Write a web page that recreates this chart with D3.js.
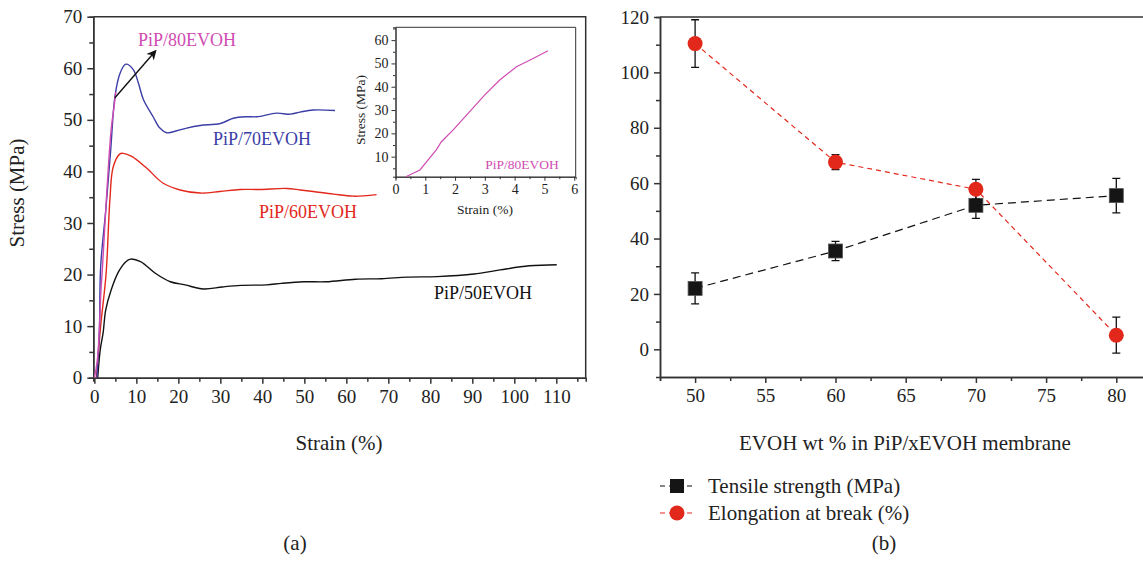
<!DOCTYPE html>
<meta charset="utf-8">
<head>
    <title>PiP/EVOH tensile properties</title>
    <script src="https://d3js.org/d3.v7.min.js"></script>
    <style>
        body { margin: 0; background: #ffffff; }
    </style>
</head>
<body>
<div id="my_dataviz"></div>
<script>

// ---- panel (a): stress-strain curves [strain %, stress MPa]
var curve50 = [[0.8,0],[1.4,5.4],[2.1,8.8],[2.7,13.1],[4.0,17],[5.8,20.6],[7.5,22.5],[8.6,23.0],[11.0,22.5],[14.6,20.2],[18.1,18.6],[21.6,18.0],[26.0,17.2],[30.5,17.6],[34.9,17.9],[41.0,18.0],[44.6,18.3],[49.9,18.6],[55.2,18.6],[62.2,19.1],[68.4,19.2],[74.5,19.5],[81.6,19.6],[90.4,20.1],[96.6,20.9],[103.6,21.7],[110.1,21.9]];
var curve60 = [[0.5,0],[1.5,10],[2.8,20.2],[3.7,34.5],[4.5,40.9],[6.1,43.4],[6.9,43.5],[8.9,42.9],[12.5,40.6],[16.4,37.7],[20.4,36.4],[25.2,35.8],[29.9,36.1],[34.7,36.5],[39.4,36.5],[45.8,36.7],[49.0,36.4],[52.1,36.1],[56.9,35.6],[61.7,35.2],[67.2,35.5]];
var curve70 = [[0.6,0],[1.2,9.2],[1.5,21.5],[2.8,33.2],[3.9,44.2],[4.9,54.5],[6.1,59],[7.5,60.8],[9.3,59.7],[10.5,57.1],[11.7,53.9],[14.0,50.6],[15.6,48.4],[17.2,47.5],[18.8,47.7],[22.0,48.4],[25.2,48.9],[30.0,49.3],[33.1,50.3],[36.3,50.6],[38.7,50.6],[43.4,51.3],[46.6,51.1],[49.0,51.5],[52.1,51.9],[57.3,51.8]];
var curve80 = [[0.0,0],[0.35,1.4],[0.82,4.3],[1.37,12.9],[1.54,16.4],[1.93,21.4],[2.49,29.3],[2.99,36.4],[3.5,42.9],[4.06,48.6],[4.62,52.1],[5.12,55.4]];

var strainTicks = [0,10,20,30,40,50,60,70,80,90,100,110];
var stressTicks = [0,10,20,30,40,50,60,70];
var insetStrainTicks = [0,1,2,3,4,5,6];
var insetStressTicks = [10,20,30,40,50,60];

// ---- panel (b): properties vs EVOH content
var evoh = [50, 60, 70, 80];
var tensile = [22, 35.5, 52, 55.5];
var tensileErr = [5.6, 3.5, 4.7, 6.2];
var elongation = [110.4, 67.6, 57.8, 5.1];
var elongationErr = [8.6, 2.7, 3.6, 6.5];
var evohTicks = [50, 55, 60, 65, 70, 75, 80];
var propTicks = [0, 20, 40, 60, 80, 100, 120];

var blue = "#3b3ea6", red = "#e2281b", magenta = "#cf4cb3";
var serif = "'Liberation Serif', 'DejaVu Serif', serif";

var svg = d3.select("#my_dataviz")
    .append("svg")
    .attr("width", 1143)
    .attr("height", 563);

// style an axis group: dark lines, serif labels
function styleAxis(g, size, width) {
    g.selectAll("path, line").style("stroke", "#333").style("stroke-width", width);
    g.selectAll("text").style("font-family", serif).style("font-size", size).style("fill", "#222");
}

// ================= panel (a) =================
var x = d3.scaleLinear().domain([-0.25, 117]).range([93.3, 585.7]);
var y = d3.scaleLinear().domain([0, 70]).range([377.7, 16.7]);

svg.append("g")
    .attr("transform", "translate(0," + y(0) + ")")
    .call(d3.axisBottom(x).tickValues(strainTicks).tickSize(6).tickSizeOuter(0).tickPadding(6))
    .call(styleAxis, "19px", 1.5);
svg.append("g")
    .attr("transform", "translate(0," + y(0) + ")")
    .call(d3.axisBottom(x).tickValues(d3.range(5, 116, 10)).tickSize(4).tickFormat(""))
    .call(styleAxis, "19px", 1.5);
svg.append("g")
    .attr("transform", "translate(" + x.range()[0] + ",0)")
    .call(d3.axisLeft(y).tickValues(stressTicks).tickSize(6).tickSizeOuter(0).tickPadding(5))
    .call(styleAxis, "19px", 1.5);
svg.append("g")
    .attr("transform", "translate(" + x.range()[0] + ",0)")
    .call(d3.axisLeft(y).tickValues(d3.range(5, 70, 10)).tickSize(4).tickFormat(""))
    .call(styleAxis, "19px", 1.5);
// frame
svg.append("path")
    .attr("d", "M" + x.range()[0] + "," + y(70) + "H" + x.range()[1] + "V" + y(0))
    .attr("fill", "none").attr("stroke", "#333").attr("stroke-width", 1.5);

svg.append("text")
    .attr("text-anchor", "middle")
    .attr("transform", "translate(24," + 193 + ") rotate(-90)")
    .text("Stress (MPa)").style("font-size", "21px");
svg.append("text")
    .attr("text-anchor", "middle")
    .attr("x", 339).attr("y", 450)
    .text("Strain (%)").style("font-size", "21px");

var line = d3.line()
    .x(function(d) { return x(d[0]) })
    .y(function(d) { return y(d[1]) })
    .curve(d3.curveCatmullRom.alpha(0.5));

[[curve50, "#111"], [curve60, red], [curve70, blue], [curve80, magenta]].forEach(function(c) {
    svg.append("path")
        .datum(c[0])
        .attr("fill", "none")
        .attr("stroke", c[1])
        .attr("stroke-width", 1.4)
        .attr("d", line);
});

// arrow pointing to the 80EVOH label
svg.append("svg:defs").append("svg:marker")
    .attr("id", "triangle")
    .attr("refX", 8).attr("refY", 5)
    .attr("markerWidth", 12).attr("markerHeight", 12)
    .attr("markerUnits", "userSpaceOnUse")
    .attr("orient", "auto")
    .append("path")
    .attr("d", "M 0 0 10 5 0 10 3 5")
    .style("fill", "#111");
svg.append("line")
    .attr("x1", x(4.9)).attr("y1", y(54.3))
    .attr("x2", x(14.5)).attr("y2", y(63.3))
    .attr("stroke", "#111").attr("stroke-width", 1.4)
    .attr("marker-end", "url(#triangle)");

svg.append("text").attr("x", 138).attr("y", 46).text("PiP/80EVOH")
    .style("font-size", "18px").style("fill", magenta);
svg.append("text").attr("x", 213).attr("y", 145).text("PiP/70EVOH")
    .style("font-size", "18px").style("fill", blue);
svg.append("text").attr("x", 259).attr("y", 218).text("PiP/60EVOH")
    .style("font-size", "18px").style("fill", red);
svg.append("text").attr("x", 434).attr("y", 299).text("PiP/50EVOH")
    .style("font-size", "18px").style("fill", "#111");

// inset
var xi = d3.scaleLinear().domain([0, 6.05]).range([395.5, 575.7]);
var yi = d3.scaleLinear().domain([1.4, 65.5]).range([176.7, 27.3]);
var inset = svg.append("g");
inset.append("g")
    .attr("transform", "translate(0," + yi.range()[0] + ")")
    .call(d3.axisBottom(xi).tickValues(insetStrainTicks).tickFormat(d3.format("d")).tickSize(4).tickSizeOuter(0).tickPadding(3))
    .call(styleAxis, "14px", 1);
inset.append("g")
    .attr("transform", "translate(0," + yi.range()[0] + ")")
    .call(d3.axisBottom(xi).tickValues(d3.range(0.5, 6, 1)).tickSize(2.5).tickFormat(""))
    .call(styleAxis, "14px", 1);
inset.append("g")
    .attr("transform", "translate(" + xi.range()[0] + ",0)")
    .call(d3.axisLeft(yi).tickValues(insetStressTicks).tickSize(4).tickSizeOuter(0).tickPadding(3))
    .call(styleAxis, "14px", 1);
inset.append("g")
    .attr("transform", "translate(" + xi.range()[0] + ",0)")
    .call(d3.axisLeft(yi).tickValues(d3.range(5, 66, 10)).tickSize(2.5).tickFormat(""))
    .call(styleAxis, "14px", 1);
inset.append("path")
    .attr("d", "M" + xi.range()[0] + "," + yi.range()[1] + "H" + xi.range()[1] + "V" + yi.range()[0])
    .attr("fill", "none").attr("stroke", "#333").attr("stroke-width", 1);
inset.append("path")
    .datum(curve80.slice(1))
    .attr("fill", "none").attr("stroke", magenta).attr("stroke-width", 1.2)
    .attr("d", d3.line().x(function(d) { return xi(d[0]) }).y(function(d) { return yi(d[1]) }));
inset.append("text").attr("text-anchor", "middle")
    .attr("transform", "translate(365,110) rotate(-90)")
    .text("Stress (MPa)").style("font-size", "13.5px");
inset.append("text").attr("text-anchor", "middle")
    .attr("x", 485).attr("y", 214).text("Strain (%)").style("font-size", "13.5px");
inset.append("text").attr("text-anchor", "middle")
    .attr("x", 522).attr("y", 169).text("PiP/80EVOH")
    .style("font-size", "13.5px").style("fill", magenta);

svg.append("text").attr("text-anchor", "middle")
    .attr("x", 295).attr("y", 550).text("(a)").style("font-size", "21px");

// ================= panel (b) =================
var x2 = d3.scaleLinear().domain([47.5, 82.5]).range([660, 1151.4]);
var y2 = d3.scaleLinear().domain([-10, 120]).range([377, 17]);

svg.append("g")
    .attr("transform", "translate(0," + y2(-10) + ")")
    .call(d3.axisBottom(x2).tickValues(evohTicks).tickSize(6).tickSizeOuter(0).tickPadding(6))
    .call(styleAxis, "19px", 1.5);
svg.append("g")
    .attr("transform", "translate(0," + y2(-10) + ")")
    .call(d3.axisBottom(x2).tickValues([47.5, 52.5, 57.5, 62.5, 67.5, 72.5, 77.5]).tickSize(4).tickFormat(""))
    .call(styleAxis, "19px", 1.5);
svg.append("g")
    .attr("transform", "translate(" + x2(47.5) + ",0)")
    .call(d3.axisLeft(y2).tickValues(propTicks).tickSize(6).tickSizeOuter(0).tickPadding(5))
    .call(styleAxis, "19px", 1.5);
svg.append("g")
    .attr("transform", "translate(" + x2(47.5) + ",0)")
    .call(d3.axisLeft(y2).tickValues(d3.range(10, 120, 20)).tickSize(4).tickFormat(""))
    .call(styleAxis, "19px", 1.5);
svg.append("line")
    .attr("x1", x2(47.5)).attr("x2", 1143)
    .attr("y1", y2(120)).attr("y2", y2(120))
    .attr("stroke", "#333").attr("stroke-width", 1.5);

svg.append("text").attr("text-anchor", "middle")
    .attr("x", 905).attr("y", 450)
    .text("EVOH wt % in PiP/xEVOH membrane").style("font-size", "21px");

function drawSeries(vals, errs, color, dash) {
    svg.append("path")
        .datum(evoh)
        .attr("fill", "none")
        .attr("stroke", color)
        .attr("stroke-width", 1.2)
        .attr("stroke-dasharray", dash)
        .attr("d", d3.line()
            .x(function(d) { return x2(d) })
            .y(function(d, i) { return y2(vals[i]) }));
    evoh.forEach(function(d, i) {
        var cx = x2(d);
        var top = y2(vals[i] + errs[i]), bot = y2(vals[i] - errs[i]);
        svg.append("path")
            .attr("d", "M" + (cx - 4) + "," + top + "H" + (cx + 4) + "M" + cx + "," + top + "V" + bot + "M" + (cx - 4) + "," + bot + "H" + (cx + 4))
            .attr("fill", "none").attr("stroke", "#111").attr("stroke-width", 1.3);
    });
}

drawSeries(tensile, tensileErr, "#111", "8,5");
svg.selectAll(null).data(evoh).enter().append("rect")
    .attr("x", function(d) { return x2(d) - 7 })
    .attr("y", function(d, i) { return y2(tensile[i]) - 7 })
    .attr("width", 14).attr("height", 14)
    .attr("fill", "#151515").attr("stroke", "#555").attr("stroke-width", 0.8);

drawSeries(elongation, elongationErr, red, "5,4");
svg.selectAll(null).data(evoh).enter().append("circle")
    .attr("cx", function(d) { return x2(d) })
    .attr("cy", function(d, i) { return y2(elongation[i]) })
    .attr("r", 7.5)
    .attr("fill", red);

// legend
var legendRows = [
    {label: "Tensile strength (MPa)", color: "#111", shape: "square", y: 486},
    {label: "Elongation at break (%)", color: red, shape: "circle", y: 513}
];
legendRows.forEach(function(r) {
    svg.append("line")
        .attr("x1", 660).attr("x2", 694)
        .attr("y1", r.y).attr("y2", r.y)
        .attr("stroke", r.color).attr("stroke-width", 1.2)
        .attr("stroke-dasharray", "5,4");
    if (r.shape == "square") {
        svg.append("rect").attr("x", 670).attr("y", r.y - 7)
            .attr("width", 14).attr("height", 14).attr("fill", "#151515");
    } else {
        svg.append("circle").attr("cx", 677).attr("cy", r.y).attr("r", 7.5).attr("fill", r.color);
    }
    svg.append("text").attr("x", 708).attr("y", r.y + 7)
        .text(r.label).style("font-size", "21px");
});

svg.append("text").attr("text-anchor", "middle")
    .attr("x", 884).attr("y", 550).text("(b)").style("font-size", "21px");

// every free label in the serif face of the figure
svg.selectAll("text").style("font-family", serif);
svg.selectAll("text").filter(function() { return !this.style.fill }).style("fill", "#222");

</script>
</body>
</html>
